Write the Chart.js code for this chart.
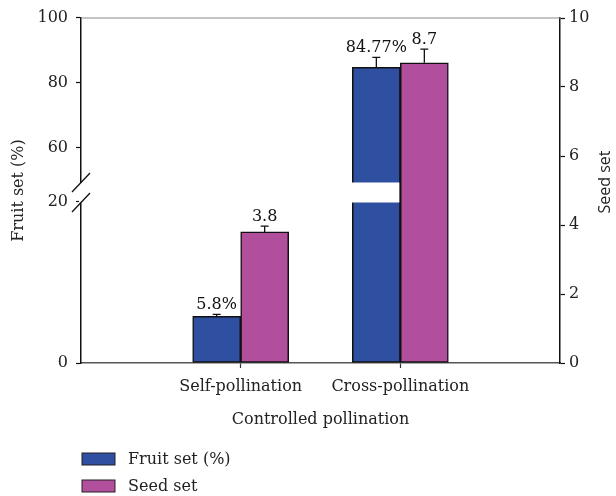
<!DOCTYPE html>
<html>
<head>
<meta charset="utf-8">
<script src="https://cdn.jsdelivr.net/npm/chart.js@4.4.1/dist/chart.umd.min.js"></script>
<style>
html,body{margin:0;padding:0;background:#fff;}
#wrap{width:616px;height:496px;position:relative;}
</style>
</head>
<body>
<div id="wrap"><canvas id="c"></canvas></div>
<script>
// ---- data ----
const categories = ['Self-pollination', 'Cross-pollination'];
const fruitSet = [5.8, 84.77];
const fruitErr = [0.25, 3.1];
const fruitLabels = ['5.8%', '84.77%'];
const seedSet = [3.8, 8.7];
const seedErr = [0.17, 0.4];
const seedLabels = ['3.8', '8.7'];
const leftTicks = [0, 20, 60, 80, 100];
const rightTicks = [0, 2, 4, 6, 8, 10];
const seriesNames = ['Fruit set (%)', 'Seed set'];

// broken left axis: 0-20 lower segment, 60-100 upper segment (mapped onto 0-10 seed scale)
const BREAK_LOW = 20, BREAK_HIGH = 60;
function brk(v) {
  if (v <= BREAK_LOW) return v * (4.667 / BREAK_LOW);
  return 6.232 + (v - BREAK_HIGH) * 0.09425;
}

const SERIF = "'DejaVu Serif', serif";
const BLUE = '#2f4fa0', PINK = '#b24f9c';

const xLabels = [''].concat(categories, ['']);
const pad = a => [null].concat(a, [null]);

const extras = {
  id: 'extras',
  afterDatasetsDraw(chart) {
    const ctx = chart.ctx;
    const ca = chart.chartArea;
    const yL = chart.scales.yL, yR = chart.scales.yR;
    // top border
    ctx.save();
    ctx.strokeStyle = '#8a8a8a'; ctx.lineWidth = 1.2;
    ctx.beginPath(); ctx.moveTo(ca.left, ca.top); ctx.lineTo(ca.right, ca.top); ctx.stroke();
    // break gap
    const gTop = 182.5, gBot = 202.5;
    const m0 = chart.getDatasetMeta(0);
    m0.data.forEach((bar, i) => {
      if (bar && fruitSet[i - 1] != null && fruitSet[i - 1] > BREAK_LOW) {
        const p = bar.getProps(['x', 'width']);
        ctx.fillStyle = '#fff';
        ctx.fillRect(p.x - p.width / 2 - 1.5, gTop, p.width + 0.5, gBot - gTop);
      }
    });
    // error bars and value labels
    ctx.strokeStyle = '#111'; ctx.lineWidth = 1.3;
    ctx.fillStyle = '#111';
    ctx.font = '16px ' + SERIF;
    ctx.textAlign = 'center'; ctx.textBaseline = 'alphabetic';
    const sets = [[0, fruitSet, fruitErr, fruitLabels, yL, true], [1, seedSet, seedErr, seedLabels, yR, false]];
    sets.forEach(([di, vals, errs, labs, sc, isBrk]) => {
      const meta = chart.getDatasetMeta(di);
      vals.forEach((v, i) => {
        const bar = meta.data[i + 1];
        const x = bar.x;
        const yTop = sc.getPixelForValue(isBrk ? brk(v) : v);
        const yE = sc.getPixelForValue(isBrk ? brk(v + errs[i]) : v + errs[i]);
        ctx.beginPath();
        ctx.moveTo(x, yTop); ctx.lineTo(x, yE);
        ctx.moveTo(x - 4, yE); ctx.lineTo(x + 4, yE);
        ctx.stroke();
        ctx.fillText(labs[i], x, yE - 5);
      });
    });
    ctx.restore();
  },
  afterDraw(chart) {
    const ctx = chart.ctx;
    const ax = chart.scales.yL.right;
    ctx.save();
    // axis break on left axis
    ctx.fillStyle = '#fff';
    ctx.fillRect(ax - 2, 183, 4, 19.5);
    ctx.strokeStyle = '#111'; ctx.lineWidth = 1.3;
    ctx.beginPath();
    ctx.moveTo(ax - 9, 192); ctx.lineTo(ax + 9, 173);
    ctx.moveTo(ax - 9, 212); ctx.lineTo(ax + 9, 193);
    ctx.stroke();
    // right axis title (reads upward)
    ctx.fillStyle = '#222';
    ctx.font = "16px 'Open Sans', sans-serif";
    ctx.textAlign = 'center'; ctx.textBaseline = 'middle';
    ctx.translate(605, 182);
    ctx.rotate(-Math.PI / 2);
    ctx.fillText('Seed set', 0, 0);
    ctx.setTransform(1, 0, 0, 1, 0, 0);
    // legend (vertical, bottom-left)
    const colors = [BLUE, PINK];
    const rows = [459, 486];
    ctx.font = '16px ' + SERIF;
    ctx.textAlign = 'left'; ctx.textBaseline = 'middle';
    seriesNames.forEach((n, i) => {
      ctx.fillStyle = colors[i];
      ctx.fillRect(82, rows[i] - 6, 33, 12);
      ctx.strokeStyle = '#222'; ctx.lineWidth = 1;
      ctx.strokeRect(82, rows[i] - 6, 33, 12);
      ctx.fillStyle = '#222';
      ctx.fillText(n, 128, rows[i] + 1);
    });
    ctx.restore();
  }
};

new Chart(document.getElementById('c'), {
  type: 'bar',
  data: {
    labels: xLabels,
    datasets: [
      { label: seriesNames[0], data: pad(fruitSet.map(brk)), yAxisID: 'yL',
        backgroundColor: BLUE, borderColor: '#111', borderWidth: 1.5, barThickness: 48, borderSkipped: false },
      { label: seriesNames[1], data: pad(seedSet), yAxisID: 'yR',
        backgroundColor: PINK, borderColor: '#111', borderWidth: 1.5, barThickness: 48, borderSkipped: false }
    ]
  },
  options: {
    responsive: true, maintainAspectRatio: false, animation: false,
    layout: { padding: { top: 18, left: 8, right: 0, bottom: 63 } },
    plugins: { legend: { display: false }, tooltip: { enabled: false } },
    scales: {
      x: {
        offset: false,
        grid: { offset: false, drawOnChartArea: false, tickLength: 5,
          tickColor: c => (c.index === 0 || c.index === xLabels.length - 1) ? 'rgba(0,0,0,0)' : '#333', tickWidth: 1.2 },
        border: { color: '#555', width: 1.5 },
        ticks: { color: '#222', font: { family: SERIF, size: 16 }, padding: 9, maxRotation: 0, autoSkip: false },
        title: { display: true, text: 'Controlled pollination', color: '#222', font: { family: SERIF, size: 16 }, padding: { top: 0, bottom: 4 } },
        afterFit: s => { s.height = 70; }
      },
      yL: {
        position: 'left', min: 0, max: 10,
        afterBuildTicks: s => { s.ticks = leftTicks.map(v => ({ value: brk(v) })); },
        grid: { drawOnChartArea: false, tickLength: 5, tickColor: '#111', tickWidth: 1.2 },
        border: { color: '#111', width: 1.5 },
        ticks: { color: '#222', font: { family: SERIF, size: 16 }, padding: 8,
          callback: (v, i) => String(leftTicks[i]) },
        title: { display: true, text: 'Fruit set (%)', color: '#222', font: { family: SERIF, size: 16 }, padding: { top: 1, bottom: 0 } },
        afterFit: s => { s.width = 73; }
      },
      yR: {
        position: 'right', min: 0, max: 10,
        afterBuildTicks: s => { s.ticks = rightTicks.map(v => ({ value: v })); },
        grid: { drawOnChartArea: false, tickLength: 5, tickColor: '#111', tickWidth: 1.2 },
        border: { color: '#111', width: 1.5 },
        ticks: { color: '#222', font: { family: SERIF, size: 16 }, padding: 4,
          callback: (v, i) => String(rightTicks[i]) },
        afterFit: s => { s.width = 56; }
      }
    }
  },
  plugins: [extras]
});
</script>
</body>
</html>
